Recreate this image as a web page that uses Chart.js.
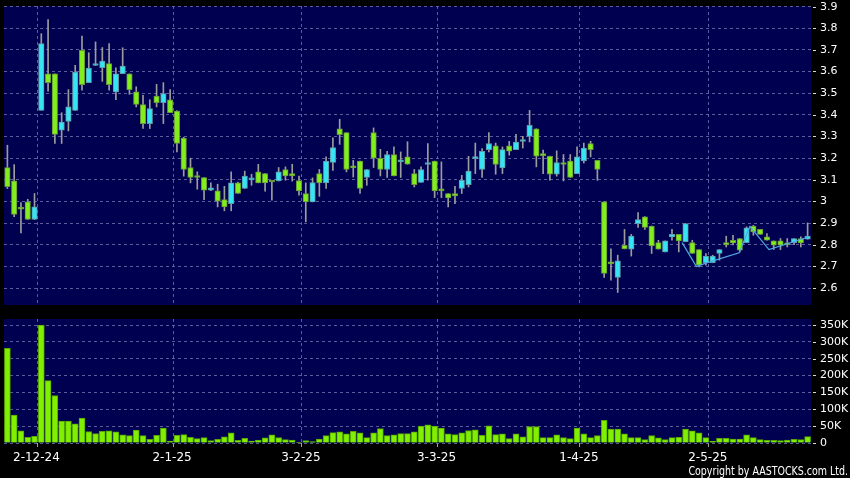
<!DOCTYPE html>
<html>
<head>
<meta charset="utf-8">
<title>AASTOCKS daily chart</title>
<script src="https://cdn.jsdelivr.net/npm/chart.js@4.4.1/dist/chart.umd.min.js"></script>
<style>
  html, body { margin: 0; padding: 0; background: #000; }
  #wrap { position: relative; width: 850px; height: 478px; background: #000; overflow: hidden; }
  #priceChart { position: absolute; left: 0; top: 0; }
  #volumeChart { position: absolute; left: 0; top: 310px; }
  #copyright {
    position: absolute; right: 2px; top: 464px;
    color: #fff; font: 12px "DejaVu Sans", sans-serif; line-height: 14px;
    white-space: nowrap; transform: scaleX(0.79); transform-origin: right center;
  }
</style>
</head>
<body>
<div id="wrap">
  <canvas id="priceChart" width="850" height="310"></canvas>
  <canvas id="volumeChart" width="850" height="168"></canvas>
  <div id="copyright">Copyright by AASTOCKS.com Ltd.</div>
</div>
<script>
// trading days shown on the chart
var dates = [
  '25-11-24','26-11-24','27-11-24','28-11-24','29-11-24',
  '2-12-24','3-12-24','4-12-24','5-12-24','6-12-24','9-12-24','10-12-24','11-12-24','12-12-24','13-12-24',
  '16-12-24','17-12-24','18-12-24','19-12-24','20-12-24','23-12-24','24-12-24','27-12-24','30-12-24','31-12-24',
  '2-1-25','3-1-25','6-1-25','7-1-25','8-1-25','9-1-25','10-1-25','13-1-25','14-1-25','15-1-25',
  '16-1-25','17-1-25','20-1-25','21-1-25','22-1-25','23-1-25','24-1-25','27-1-25','28-1-25',
  '3-2-25','4-2-25','5-2-25','6-2-25','7-2-25','10-2-25','11-2-25','12-2-25','13-2-25','14-2-25',
  '17-2-25','18-2-25','19-2-25','20-2-25','21-2-25','24-2-25','25-2-25','26-2-25','27-2-25','28-2-25',
  '3-3-25','4-3-25','5-3-25','6-3-25','7-3-25','10-3-25','11-3-25','12-3-25','13-3-25','14-3-25',
  '17-3-25','18-3-25','19-3-25','20-3-25','21-3-25','24-3-25','25-3-25','26-3-25','27-3-25','28-3-25','31-3-25',
  '1-4-25','2-4-25','3-4-25','7-4-25','8-4-25','9-4-25','10-4-25','11-4-25','14-4-25','15-4-25',
  '16-4-25','17-4-25','22-4-25','23-4-25','24-4-25','25-4-25','28-4-25','29-4-25','30-4-25',
  '2-5-25','6-5-25','7-5-25','8-5-25','9-5-25','12-5-25','13-5-25','14-5-25','15-5-25','16-5-25',
  '19-5-25','20-5-25','21-5-25','22-5-25','23-5-25'
];
var dateTicks = ['2-12-24', '2-1-25', '3-2-25', '3-3-25', '1-4-25', '2-5-25'];

var opens = [
  3.157, 3.095, 2.97, 2.998, 2.917, 3.421, 3.59, 3.59, 3.329, 3.37,
  3.421, 3.698, 3.549, 3.628, 3.618, 3.637, 3.506, 3.59, 3.59, 3.506,
  3.448, 3.36, 3.487, 3.457, 3.47, 3.418, 3.293, 3.157, 3.112, 3.111,
  3.052, 3.049, 3.009, 2.99, 3.086, 3.06, 3.1, 3.137, 3.129, 3.09,
  3.095, 3.148, 3.129, 3.097, 3.037, 2.998, 3.129, 3.086, 3.18, 3.336,
  3.318, 3.155, 3.187, 3.111, 3.318, 3.2, 3.148, 3.217, 3.183, 3.206,
  3.129, 3.088, 3.171, 3.187, 3.051, 3.037, 3.037, 3.06, 3.078, 3.198,
  3.148, 3.24, 3.257, 3.155, 3.257, 3.24, 3.277, 3.301, 3.336, 3.216,
  3.209, 3.126, 3.173, 3.187, 3.129, 3.187, 3.268, 3.19, 2.998, 2.717,
  2.649, 2.798, 2.78, 2.898, 2.929, 2.887, 2.81, 2.767, 2.837, 2.848,
  2.814, 2.81, 2.778, 2.717, 2.717, 2.76, 2.81, 2.821, 2.829, 2.81,
  2.887, 2.871, 2.837, 2.818, 2.818, 2.8, 2.81, 2.829, 2.826
];
var highs = [
  3.26, 3.17, 2.995, 3.01, 3.037, 3.775, 3.84, 3.59, 3.41, 3.517,
  3.629, 3.764, 3.687, 3.737, 3.711, 3.73, 3.617, 3.71, 3.59, 3.53,
  3.49, 3.47, 3.541, 3.549, 3.517, 3.42, 3.297, 3.2, 3.137, 3.111,
  3.086, 3.08, 3.07, 3.137, 3.09, 3.14, 3.126, 3.172, 3.13, 3.09,
  3.157, 3.16, 3.172, 3.118, 3.086, 3.109, 3.148, 3.206, 3.294, 3.38,
  3.318, 3.19, 3.187, 3.148, 3.34, 3.241, 3.232, 3.252, 3.229, 3.276,
  3.148, 3.16, 3.268, 3.187, 3.183, 3.037, 3.07, 3.121, 3.209, 3.27,
  3.245, 3.318, 3.27, 3.252, 3.278, 3.31, 3.301, 3.421, 3.336, 3.237,
  3.21, 3.234, 3.217, 3.217, 3.252, 3.27, 3.278, 3.19, 3.0, 2.781,
  2.752, 2.871, 2.848, 2.949, 2.93, 2.887, 2.821, 2.818, 2.871, 2.848,
  2.898, 2.821, 2.778, 2.76, 2.752, 2.778, 2.84, 2.844, 2.829, 2.883,
  2.89, 2.871, 2.852, 2.818, 2.829, 2.829, 2.829, 2.837, 2.901
];
var lows = [
  3.06, 2.93, 2.855, 2.917, 2.917, 3.421, 3.51, 3.268, 3.268, 3.326,
  3.42, 3.514, 3.549, 3.628, 3.555, 3.514, 3.47, 3.59, 3.495, 3.437,
  3.337, 3.337, 3.437, 3.36, 3.41, 3.229, 3.117, 3.086, 3.057, 3.009,
  3.05, 2.975, 2.957, 2.957, 3.037, 3.06, 3.075, 3.086, 3.048, 3.006,
  3.095, 3.098, 3.094, 3.029, 2.906, 2.998, 3.024, 3.06, 3.144, 3.264,
  3.137, 3.113, 3.037, 3.075, 3.157, 3.118, 3.111, 3.118, 3.111, 3.172,
  3.067, 3.088, 3.098, 3.018, 3.018, 2.975, 2.99, 3.037, 3.067, 3.129,
  3.111, 3.229, 3.126, 3.129, 3.214, 3.24, 3.247, 3.275, 3.16, 3.129,
  3.098, 3.117, 3.095, 3.111, 3.129, 3.178, 3.206, 3.098, 2.649, 2.637,
  2.58, 2.781, 2.748, 2.88, 2.871, 2.76, 2.78, 2.767, 2.821, 2.767,
  2.814, 2.76, 2.698, 2.706, 2.717, 2.729, 2.79, 2.8, 2.767, 2.81,
  2.844, 2.848, 2.821, 2.778, 2.778, 2.79, 2.801, 2.79, 2.826
];
var closes = [
  3.068, 2.94, 2.965, 2.917, 2.975, 3.729, 3.549, 3.31, 3.367, 3.437,
  3.598, 3.54, 3.616, 3.63, 3.649, 3.54, 3.59, 3.626, 3.517, 3.448,
  3.36, 3.429, 3.457, 3.498, 3.41, 3.268, 3.148, 3.111, 3.111, 3.052,
  3.063, 3.001, 2.975, 3.086, 3.037, 3.118, 3.109, 3.086, 3.086, 3.09,
  3.137, 3.118, 3.118, 3.049, 2.998, 3.088, 3.086, 3.187, 3.249, 3.309,
  3.148, 3.155, 3.06, 3.148, 3.2, 3.148, 3.217, 3.118, 3.188, 3.172,
  3.078, 3.148, 3.18, 3.049, 3.049, 3.017, 3.026, 3.098, 3.14, 3.2,
  3.232, 3.268, 3.171, 3.24, 3.232, 3.275, 3.279, 3.352, 3.209, 3.212,
  3.126, 3.18, 3.171, 3.111, 3.206, 3.247, 3.24, 3.148, 2.668, 2.712,
  2.726, 2.781, 2.84, 2.917, 2.88, 2.795, 2.78, 2.818, 2.848, 2.818,
  2.898, 2.76, 2.706, 2.748, 2.748, 2.778, 2.8, 2.809, 2.775, 2.878,
  2.86, 2.848, 2.821, 2.798, 2.798, 2.8, 2.829, 2.809, 2.84
];
var volumes = [
  281000, 83000, 36000, 17000, 20000, 350000, 185000, 141000, 65000, 65000,
  57000, 74000, 34000, 28000, 35000, 36000, 33000, 24000, 22000, 38000,
  22000, 11000, 23000, 44000, 6000, 23000, 25000, 17000, 13000, 16000,
  7000, 11000, 18000, 30000, 8000, 14000, 6000, 9000, 15000, 24000,
  16000, 10000, 9000, 2000, 7000, 4000, 12000, 22000, 31000, 33000,
  27000, 35000, 30000, 16000, 30000, 43000, 22000, 24000, 28000, 28000,
  33000, 50000, 54000, 50000, 44000, 27000, 25000, 30000, 37000, 39000,
  23000, 51000, 25000, 27000, 13000, 27000, 18000, 49000, 49000, 16000,
  16000, 24000, 16000, 13000, 44000, 27000, 16000, 22000, 67000, 41000,
  41000, 27000, 16000, 16000, 10000, 22000, 15000, 10000, 16000, 17000,
  41000, 36000, 30000, 16000, 5000, 14000, 14000, 12000, 12000, 24000,
  16000, 10000, 8000, 8000, 7000, 9000, 11000, 10000, 19000
];

// thin trend line drawn over the last weeks (x = bar index)
var trendX = [99.5, 101.6, 103.2, 107.9, 109.5, 112.3, 118.0];
var trendY = [2.81, 2.70, 2.718, 2.763, 2.885, 2.778, 2.835];

var priceTicks = [2.6, 2.7, 2.8, 2.9, 3.0, 3.1, 3.2, 3.3, 3.4, 3.5, 3.6, 3.7, 3.8, 3.9];
var volumeTicks = [0, 50000, 100000, 150000, 200000, 250000, 300000, 350000];

// colours
var plotBg = '#000050';
var gridColor = 'rgba(115,115,175,0.8)';
var upColor = '#36e4f4';
var upBorder = '#5f98a6';
var downColor = '#82ef1c';
var downBorder = '#68963a';
var wickColor = '#9c9c9c';
var fontFamily = '"DejaVu Sans", sans-serif';

// paint the navy plot area behind the marks
var navyBackground = {
  id: 'navyBackground',
  beforeDraw: function (chart) {
    var a = chart.chartArea;
    var ctx = chart.ctx;
    ctx.save();
    ctx.fillStyle = plotBg;
    ctx.fillRect(a.left, a.top, a.right - a.left, a.bottom - a.top);
    ctx.restore();
  }
};

// shared date axis, labels only under the volume panel
function dateAxis(showLabels) {
  return {
    type: 'linear',
    min: -0.5,
    max: dates.length - 0.5,
    offset: false,
    afterBuildTicks: function (axis) {
      axis.ticks = dateTicks.map(function (d) { return { value: dates.indexOf(d) - 0.57 }; });
    },
    afterFit: function (axis) {
      axis.height = showLabels ? 35 : 0;
      axis.paddingLeft = 0;
      axis.paddingRight = 0;
    },
    grid: {
      color: gridColor, offset: false,
      drawTicks: showLabels, tickLength: 4, tickColor: '#a0a0a0', tickBorderDash: []
    },
    border: { display: false, dash: [3, 3] },
    ticks: {
      display: showLabels, autoSkip: false, maxRotation: 0, padding: 4, labelOffset: -1,
      color: '#ffffff', font: { family: fontFamily, size: 12 },
      callback: function (value, index) { return dateTicks[index]; }
    }
  };
}

function rightAxis(min, max, tickValues, format) {
  return {
    position: 'right',
    min: min,
    max: max,
    beginAtZero: false,
    afterBuildTicks: function (axis) {
      axis.ticks = tickValues.map(function (v) { return { value: v }; });
    },
    afterFit: function (axis) {
      axis.width = 39;
      // keep the plot edges where the layout padding puts them
      axis.paddingTop = 0;
      axis.paddingBottom = 0;
    },
    grid: { color: gridColor, drawTicks: false },
    border: { display: false, dash: [3, 3] },
    ticks: {
      padding: 1.5, color: '#ffffff', font: { family: fontFamily, size: 11 },
      callback: function (value) { return '- ' + format(value); }
    }
  };
}

function createPriceChart() {
  var bodies = [], wicks = [], fills = [], borders = [];
  for (var i = 0; i < dates.length; i++) {
    var up = closes[i] > opens[i];
    bodies.push({ x: i, y: [Math.min(opens[i], closes[i]), Math.max(opens[i], closes[i])] });
    wicks.push({ x: i, y: [lows[i], highs[i]] });
    fills.push(up ? upColor : downColor);
    borders.push(up ? upBorder : downBorder);
  }
  var trend = trendX.map(function (x, k) { return { x: x, y: trendY[k] }; });

  new Chart(document.getElementById('priceChart').getContext('2d'), {
    type: 'bar',
    data: {
      datasets: [
        { type: 'line', data: trend, borderColor: '#4ea8e8', borderWidth: 1.2, pointRadius: 0, fill: false, tension: 0 },
        { data: bodies, backgroundColor: fills, borderColor: borders, borderWidth: 1, borderSkipped: false,
          barThickness: 5.5, minBarLength: 2, grouped: false },
        { data: wicks, backgroundColor: wickColor, borderWidth: 0, barThickness: 1, grouped: false }
      ]
    },
    options: {
      responsive: false,
      animation: false,
      events: [],
      layout: { padding: { left: 4, top: 6, right: 0, bottom: 5 } },
      plugins: { legend: { display: false }, tooltip: { enabled: false } },
      scales: {
        x: dateAxis(false),
        y: rightAxis(2.522, 3.903, priceTicks, function (v) { return String(+v.toFixed(1)); })
      }
    },
    plugins: [navyBackground]
  });
}

function createVolumeChart() {
  var bars = volumes.map(function (v, i) { return { x: i, y: v }; });

  new Chart(document.getElementById('volumeChart').getContext('2d'), {
    type: 'bar',
    data: {
      datasets: [{
        data: bars, backgroundColor: '#80f000', borderColor: '#55a400', borderWidth: 1,
        barThickness: 6, grouped: false
      }]
    },
    options: {
      responsive: false,
      animation: false,
      events: [],
      layout: { padding: { left: 4, top: 9, right: 0, bottom: 0 } },
      plugins: { legend: { display: false }, tooltip: { enabled: false } },
      scales: {
        x: dateAxis(true),
        y: rightAxis(0, 368000, volumeTicks, function (v) { return v ? (v / 1000) + 'K' : '0'; })
      }
    },
    plugins: [navyBackground]
  });
}

createPriceChart();
createVolumeChart();
</script>
</body>
</html>
